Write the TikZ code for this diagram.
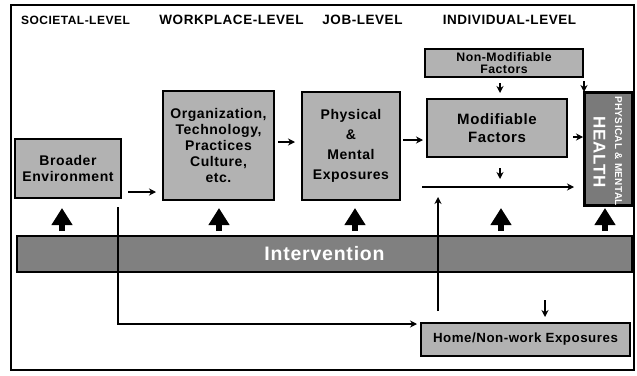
\documentclass[tikz,border=0pt]{standalone}
\usepackage{fontspec}
\setmainfont{Liberation Sans}[LetterSpace=4]
\usetikzlibrary{arrows.meta}
\definecolor{lightbox}{HTML}{B2B2B2}
\definecolor{darkbox}{HTML}{808080}
\def\boxfont{\bfseries\fontsize{14}{16}\selectfont}

\begin{document}
\begin{tikzpicture}[x=1pt, y=-1pt,
    box/.style={draw, line width=2pt, fill=lightbox, align=center, inner sep=0pt, font=\boxfont},
    level/.style={font=\bfseries\fontsize{13.5}{15}\selectfont},
    arr/.style={-{Stealth[length=7pt,width=7pt]}, line width=1.8pt},
    bigarr/.style={-{Triangle[length=17pt,width=20pt]}, line width=6pt}]
      \useasboundingbox (0,0) rectangle (637,375);

      % Frame
      \draw[line width=2.5pt] (11,5) rectangle (634,370);

      % Levels
      \node[level, font=\bfseries\fontsize{12}{13}\selectfont] (societal) at (75.5,20) {SOCIETAL-LEVEL};
      \node[level] (workplace) at (231.5,20) {WORKPLACE-LEVEL};
      \node[level] (job) at (362.5,20) {JOB-LEVEL};
      \node[level] (individual) at (509.5,20) {INDIVIDUAL-LEVEL};

      % Boxes
      \node[box, minimum width=106pt, minimum height=59pt] (env) at (68,168.5) {Broader\\Environment};
      \node[box, minimum width=111pt, minimum height=109pt] (org) at (218.5,145.5)
        {Organization,\\Technology,\\Practices\\Culture,\\etc.};
      \node[box, minimum width=98pt, minimum height=108pt, font=\bfseries\fontsize{14}{20}\selectfont] (phys) at (351,146)
        {Physical\\\&\\Mental\\Exposures};
      \node[box, minimum width=158pt, minimum height=28pt, font=\bfseries\fontsize{12.3}{12.7}\selectfont] (nonmod) at (504,63)
        {Non-Modifiable\\Factors};
      \node[box, minimum width=140pt, minimum height=58pt, font=\bfseries\fontsize{15}{17.5}\selectfont] (modif) at (497,128)
        {Modifiable\\Factors};
      \node[box, minimum width=209pt, minimum height=33pt, font=\bfseries\fontsize{13.3}{15}\selectfont] (home) at (525.5,339.5)
        {Home/Non-work Exposures};
      \node[box, fill=darkbox, minimum width=615pt, minimum height=36pt, text=white,
        font=\bfseries\fontsize{19.5}{22}\selectfont] (interv) at (324.5,254) {Intervention};

      % Health
      \node[box, fill=darkbox!95!black, minimum width=47pt, minimum height=112pt] (health) at (608.5,149) {};
      \begin{scope}
        \clip (health.north west) rectangle (health.south east);
        \node[rotate=-90, text=white, font=\bfseries\fontsize{17}{18}\selectfont] (healthtxt) at (599.5,152.5) {HEALTH};
        \node[rotate=-90, anchor=west, text=white, inner sep=0pt, font=\bfseries\fontsize{10}{11}\selectfont] (physment)
          at (618.5,96) {PHYSICAL \& MENTAL};
      \end{scope}
      \draw[line width=2pt] (health.north west) rectangle (health.south east);

      % Arrows
      \draw[arr] ([xshift=6pt,yshift=-23.5pt]env.east) -- ([xshift=-6pt,yshift=-46.5pt]org.west);
      \draw[arr] ([xshift=3pt,yshift=3.5pt]org.east) -- ([xshift=-6pt,yshift=4pt]phys.west);
      \draw[arr] ([xshift=2pt,yshift=6pt]phys.east) -- ([xshift=-3pt,yshift=-12pt]modif.west);
      \draw[arr] ([xshift=5pt,yshift=-9pt]modif.east) -- ([xshift=-1pt,yshift=12pt]health.west);
      \draw[arr] ([xshift=-4pt,yshift=-5pt]nonmod.south) -- ([xshift=3pt,yshift=5pt]modif.north);
      \draw[arr] ([xshift=-24.5pt,yshift=11pt]health.north) -- ([xshift=-24.5pt]health.north);
      \draw[arr] ([xshift=3pt,yshift=-10pt]modif.south) -- ([xshift=3pt,yshift=-21pt]modif.south);
      \draw[arr, line width=2.5pt] ([xshift=-4pt,yshift=-59pt]modif.west) -- ([xshift=-10pt,yshift=-38pt]health.west);
      \draw[arr] ([xshift=-87.5pt,yshift=11pt]home.north) -- ([xshift=-87.5pt,yshift=125pt]home.north);
      \draw[arr, line width=1.5pt] ([xshift=50pt,yshift=-8pt]env.south) |- ([xshift=-3pt,yshift=15.5pt]home.west);
      \draw[arr] ([xshift=19.5pt,yshift=22pt]home.north) -- ([xshift=19.5pt,yshift=5pt]home.north);

      % Intervention arrows
      \foreach \dx in {-262.5,-105.5,30.5,176.5,280.5}
        \draw[bigarr] ([xshift=\dx pt,yshift=4pt]interv.north) -- ([xshift=\dx pt,yshift=27pt]interv.north);

\end{tikzpicture}
\end{document}
